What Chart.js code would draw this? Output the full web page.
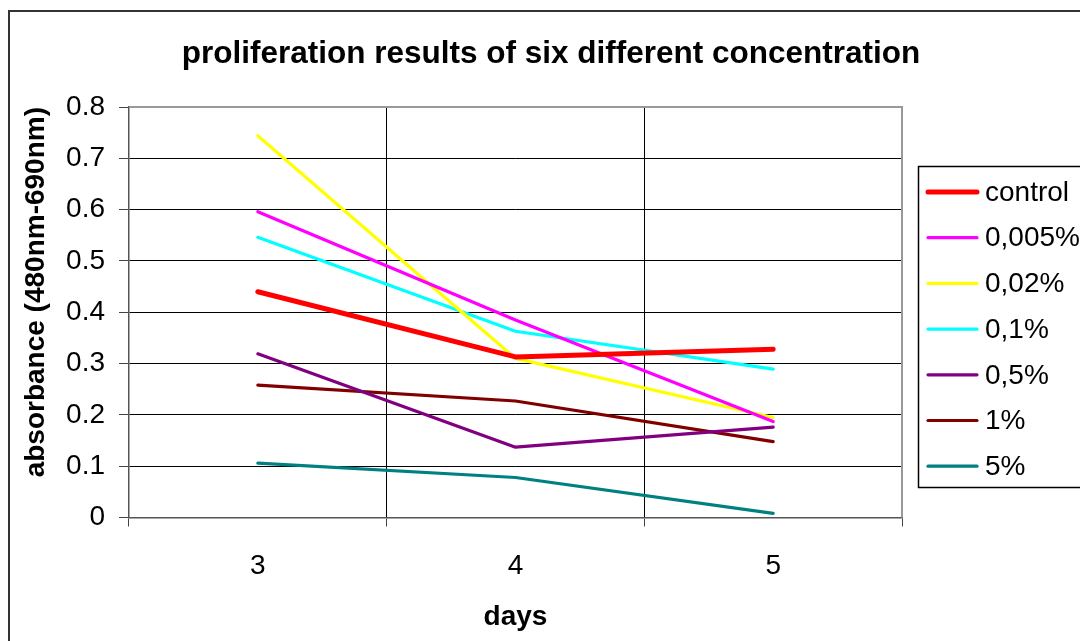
<!DOCTYPE html>
<html>
<head>
<meta charset="utf-8">
<script src="https://cdn.jsdelivr.net/npm/chart.js@4.4.1/dist/chart.umd.min.js"></script>
<style>
  html, body { margin: 0; padding: 0; background: #fff; }
  canvas { display: block; }
</style>
</head>
<body>
<canvas id="prolif" width="1080" height="641"></canvas>
<script>
// proliferation assay, absorbance per day for each concentration
const DAYS = ['3', '4', '5'];
const Y_TICKS = ['0', '0.1', '0.2', '0.3', '0.4', '0.5', '0.6', '0.7', '0.8'];
const SERIES = ['control', '0,005%', '0,02%', '0,1%', '0,5%', '1%', '5%'];

const control = [0.440, 0.313, 0.328];
const c0005 = [0.596, 0.385, 0.187];
const c002 = [0.744, 0.310, 0.195];
const c01 = [0.546, 0.363, 0.289];
const c05 = [0.319, 0.137, 0.176];
const c1 = [0.258, 0.227, 0.148];
const c5 = [0.106, 0.078, 0.008];

const VALUES = [control, c0005, c002, c01, c05, c1, c5];
const COLORS = ['#ff0000', '#ff00ff', '#ffff00', '#00ffff', '#800080', '#800000', '#008080'];
const WIDTHS = [5, 3.2, 3.2, 3.2, 3.2, 3.2, 3.2];

const FONT = '"Liberation Sans", Arial, sans-serif';

const frame = {
  id: 'frame',
  beforeDraw(chart) {
    const ctx = chart.ctx;
    ctx.save();
    ctx.fillStyle = '#fff';
    ctx.fillRect(0, 0, chart.width, chart.height);
    // outer chart border (runs off the right and bottom edges)
    ctx.strokeStyle = '#333';
    ctx.lineWidth = 2;
    ctx.beginPath();
    ctx.moveTo(9, chart.height + 5);
    ctx.lineTo(9, 11);
    ctx.lineTo(chart.width + 5, 11);
    ctx.stroke();
    ctx.restore();
  },
  beforeDatasetsDraw(chart) {
    const { ctx, chartArea: a } = chart;
    ctx.save();
    ctx.strokeStyle = '#999';
    ctx.lineWidth = 2;
    ctx.beginPath();
    ctx.moveTo(a.left, a.top);
    ctx.lineTo(a.right, a.top);
    ctx.lineTo(a.right, a.bottom);
    ctx.stroke();
    ctx.restore();
  },
  afterDraw(chart) {
    const ctx = chart.ctx;
    ctx.save();
    ctx.fillStyle = '#000';
    ctx.font = 'bold 31.5px ' + FONT;
    ctx.textAlign = 'center';
    ctx.textBaseline = 'middle';
    ctx.fillText('proliferation results of six different concentration', 551, 54);

    // legend box
    ctx.strokeStyle = '#000';
    ctx.lineWidth = 1.5;
    ctx.strokeRect(918.5, 166.5, 200, 321);
    ctx.font = '28px ' + FONT;
    ctx.textAlign = 'left';
    chart.data.datasets.forEach((ds, i) => {
      const y = 192 + i * 45.7;
      ctx.strokeStyle = ds.borderColor;
      ctx.lineWidth = ds.borderWidth;
      ctx.lineCap = 'round';
      ctx.beginPath();
      ctx.moveTo(928, y);
      ctx.lineTo(977, y);
      ctx.stroke();
      ctx.fillText(ds.label, 985, y + 1);
    });
    ctx.restore();
  }
};

new Chart(document.getElementById('prolif'), {
  type: 'line',
  data: {
    labels: DAYS,
    datasets: SERIES.map((name, i) => ({
      label: name,
      data: VALUES[i],
      borderColor: COLORS[i],
      backgroundColor: COLORS[i],
      borderWidth: WIDTHS[i],
      pointRadius: 0,
      tension: 0,
      borderJoinStyle: 'round',
      borderCapStyle: 'round'
    }))
  },
  options: {
    responsive: false,
    animation: false,
    devicePixelRatio: 1,
    layout: { padding: { top: 107, right: 178, left: 0, bottom: 0 } },
    plugins: {
      legend: { display: false },
      title: { display: false },
      tooltip: { enabled: false }
    },
    scales: {
      x: {
        type: 'category',
        offset: true,
        afterFit(s) { s.height = 123.5; },
        grid: { offset: true, color: '#000', lineWidth: 1, tickLength: 9, tickColor: '#444' },
        border: { color: '#555', width: 1.5 },
        ticks: { color: '#000', font: { family: FONT, size: 28 }, padding: 23, maxRotation: 0 },
        title: {
          display: true, text: 'days', color: '#000',
          font: { family: FONT, size: 28, weight: 'bold' },
          padding: { top: 0, bottom: 7 }
        }
      },
      y: {
        min: 0,
        max: 0.8,
        afterFit(s) { s.width = 129; },
        grid: { color: '#000', lineWidth: 1, tickLength: 10, tickColor: '#444' },
        border: { color: '#555', width: 1.5 },
        ticks: {
          stepSize: 0.1,
          color: '#000',
          font: { family: FONT, size: 28 },
          padding: 14,
          callback: v => Y_TICKS[Math.round(v * 10)]
        },
        title: {
          display: true, text: 'absorbance (480nm-690nm)', color: '#000',
          align: 'end',
          font: { family: FONT, size: 28, weight: 'bold' },
          padding: { top: 19, bottom: 0 }
        }
      }
    }
  },
  plugins: [frame]
});
</script>
</body>
</html>
